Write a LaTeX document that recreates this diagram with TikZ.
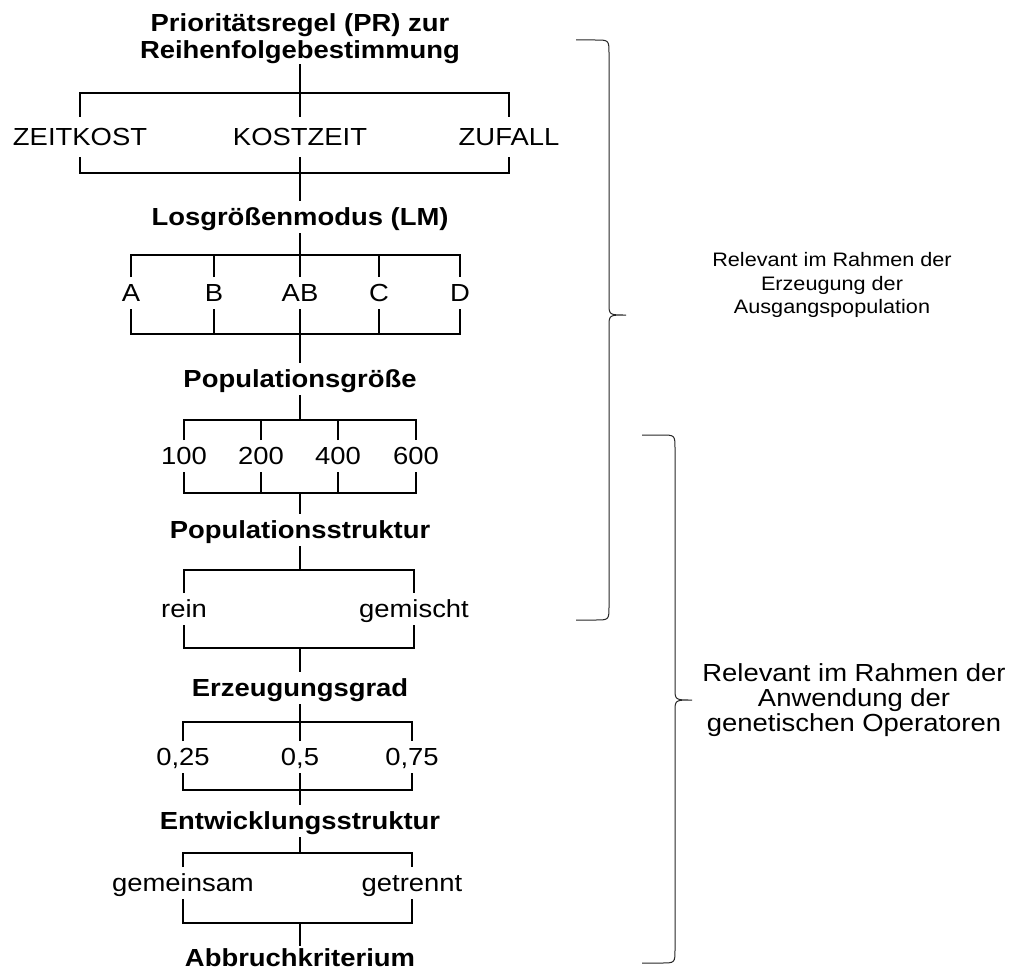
\documentclass[tikz,border=0pt]{standalone}
\usepackage{fontspec}
\setmainfont{Liberation Sans}[FakeStretch=1.11]

\newcommand{\lblfont}{\fontsize{24.7}{27}\selectfont}
\newcommand{\notefont}{\fontsize{19.5}{23.5}\selectfont}

\begin{document}
\begin{tikzpicture}[
  x=1pt, y=-1pt,
  line width=1.8pt,
  head/.style={font=\lblfont\bfseries, inner sep=0pt, outer sep=0pt, text height=17.7pt, text depth=0pt, minimum height=32pt},
  headtwo/.style={font=\lblfont\bfseries, align=center, inner sep=0pt, outer sep=0pt},
  opt/.style={font=\lblfont, inner sep=0pt, outer sep=0pt, text height=17.7pt, text depth=0pt, minimum height=32pt},
  note/.style={align=center, inner sep=0pt},
  brace/.style={line width=1pt, draw=black!85}
]
\useasboundingbox (0,0) rectangle (1016,971);

% headings and options
\node[headtwo] (pr) at (300,39) {Prioritätsregel (PR) zur\\Reihenfolgebestimmung};
\node[opt, minimum height=40pt] (zk) at (80,137) {ZEITKOST};
\node[opt, minimum height=40pt] (kz) at (300,137) {KOSTZEIT};
\node[opt, minimum height=40pt] (zf) at (509,137) {ZUFALL};

\node[head] (lm) at (300,217) {Losgrößenmodus (LM)};
\node[opt] (a) at (131,293) {A};
\node[opt] (b) at (214,293) {B};
\node[opt] (ab) at (300,293) {AB};
\node[opt] (c) at (379,293) {C};
\node[opt] (d) at (460,293) {D};

\node[head] (pg) at (300,379) {Populationsgröße};
\node[opt] (p100) at (184,456) {100};
\node[opt] (p200) at (261,456) {200};
\node[opt] (p400) at (338,456) {400};
\node[opt] (p600) at (416,456) {600};

\node[head] (ps) at (300,530) {Populationsstruktur};
\node[opt] (rein) at (184,609) {rein};
\node[opt] (gem) at (414,609) {gemischt};

\node[head] (eg) at (300,688) {Erzeugungsgrad};
\node[opt] (g25) at (183,757) {0,25};
\node[opt] (g50) at (300,757) {0,5};
\node[opt] (g75) at (412,757) {0,75};

\node[head] (es) at (300,821) {Entwicklungsstruktur};
\node[opt] (gemein) at (183,883) {gemeinsam};
\node[opt] (getr) at (412,883) {getrennt};

\node[head, minimum height=0pt] (ak) at (300,958) {Abbruchkriterium};

% bar junctions
\coordinate (t1) at (300,93);  \coordinate (u1) at (300,173);
\coordinate (t2) at (300,255); \coordinate (u2) at (300,334);
\coordinate (t3) at (300,420); \coordinate (u3) at (300,493);
\coordinate (t4) at (300,570); \coordinate (u4) at (300,648);
\coordinate (t5) at (300,722); \coordinate (u5) at (300,790);
\coordinate (t6) at (300,853); \coordinate (u6) at (300,923);

% PR
\draw (pr) -- (t1);
\draw (zk) |- (t1) -| (zf);
\draw (kz) -- (t1);
\draw (zk) |- (u1) -| (zf);
\draw (kz) -- (u1) -- (lm);

% LM
\draw (lm) -- (t2);
\draw (a) |- (t2) -| (d);
\draw (b) -- (b |- t2);
\draw (ab) -- (t2);
\draw (c) -- (c |- t2);
\draw (a) |- (u2) -| (d);
\draw (b) -- (b |- u2);
\draw (c) -- (c |- u2);
\draw (ab) -- (u2) -- (pg);

% population size
\draw (pg) -- (t3);
\draw (p100) |- (t3) -| (p600);
\draw (p200) -- (p200 |- t3);
\draw (p400) -- (p400 |- t3);
\draw (p100) |- (u3) -| (p600);
\draw (p200) -- (p200 |- u3);
\draw (p400) -- (p400 |- u3);
\draw (u3) -- (ps);

% population structure
\draw (ps) -- (t4);
\draw (rein) |- (t4) -| (gem);
\draw (rein) |- (u4) -| (gem);
\draw (u4) -- (eg);

% generation degree
\draw (eg) -- (t5);
\draw (g25) |- (t5) -| (g75);
\draw (g50) -- (t5);
\draw (g25) |- (u5) -| (g75);
\draw (g50) -- (u5) -- (es);

% development structure
\draw (es) -- (t6);
\draw (gemein) |- (t6) -| (getr);
\draw (gemein) |- (u6) -| (getr);
\draw (u6) -- ([yshift=3pt]ak.north);

% braces
\draw[brace] (576,40) -- (595,40) .. controls (609,40) .. (609,54) -- (609,303)
  .. controls (609,315) .. (626,315) .. controls (609,315) .. (609,327) -- (609,606)
  .. controls (609,620) .. (595,620) -- (576,620);
\draw[brace] (642,435) -- (661,435) .. controls (675,435) .. (675,449) -- (675,688)
  .. controls (675,700) .. (692,700) .. controls (675,700) .. (675,712) -- (675,949)
  .. controls (675,963) .. (661,963) -- (642,963);

\node[note, font=\notefont] (n1) at (832,285) {Relevant im Rahmen der\\Erzeugung der\\Ausgangspopulation};
\node[note, font=\fontsize{24.7}{25}\selectfont] (n2) at (854,700) {Relevant im Rahmen der\\Anwendung der\\genetischen Operatoren};
\end{tikzpicture}
\end{document}
